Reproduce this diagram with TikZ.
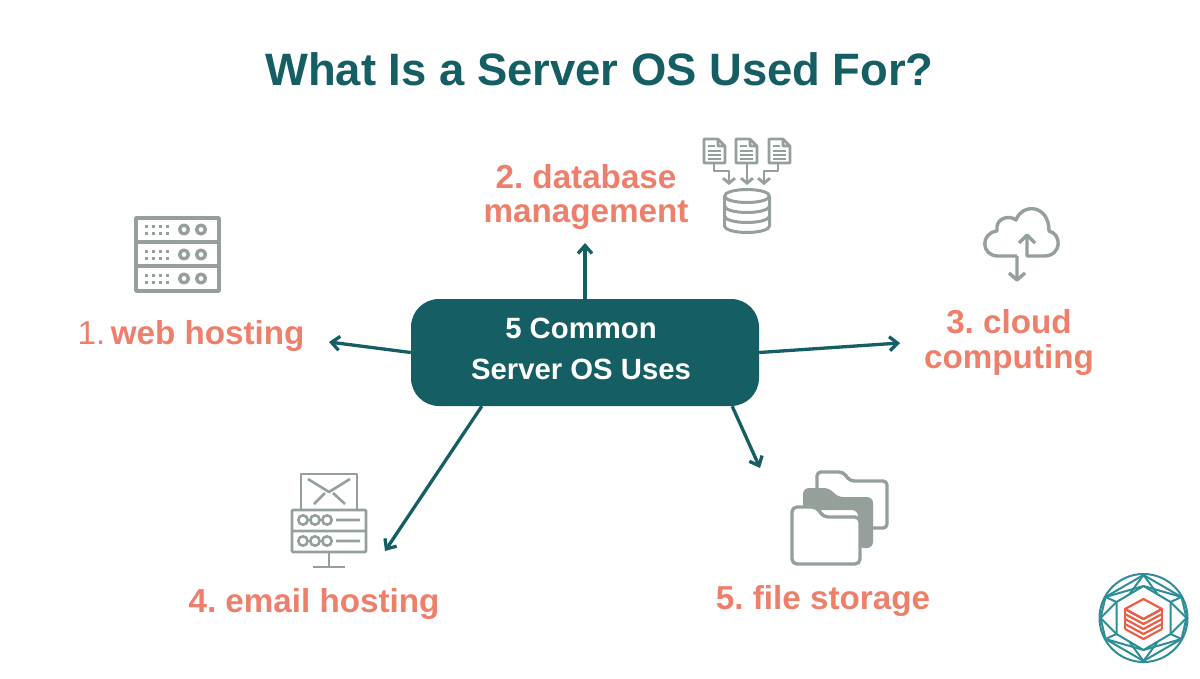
\documentclass[tikz,border=0pt]{standalone}
\usepackage{fontspec}
\setmainfont{Liberation Sans}
\usetikzlibrary{arrows.meta}
\definecolor{tealx}{HTML}{155E63}
\definecolor{salmon}{HTML}{EE7F6B}
\definecolor{icon}{HTML}{95A09B}
\definecolor{logot}{HTML}{2E8E96}
\definecolor{logor}{HTML}{EA5F45}
\tikzset{
  title/.style={font=\fontsize{45.4}{50}\selectfont\bfseries,text=tealx},
  lab/.style={font=\frenchspacing\fontsize{33.2}{34.5}\selectfont\bfseries,text=salmon,align=center},
  hub/.style={fill=tealx,rounded corners=28pt,minimum width=348pt,minimum height=107pt,align=center,text=white,inner sep=0pt,font=\fontsize{29.3}{41}\selectfont\bfseries},
  conn/.style={draw=tealx,line width=3.3pt,-{Straight Barb[length=8pt,width=14pt,line width=3.3pt]}},
  ic/.style={draw=icon,line width=3.4pt,line join=round},
  icthin/.style={draw=icon,line width=2.6pt,line join=round},
  smallhead/.style={-{Straight Barb[length=5pt,width=12pt,line width=2.8pt]}},
}
\begin{document}
\begin{tikzpicture}[x=1pt,y=-1pt]
\useasboundingbox (0,0) rectangle (1200,678);
\fill[white] (0,0) rectangle (1200,678);
\node[title] (ttl) at (599.5,69.5) {What Is a Server OS Used For?};
\node[hub] (hub) at (585,352.5) {\hspace*{-8pt}\raisebox{-27pt}[0pt][0pt]{\parbox[b]{240pt}{\centering 5 Common\\Server OS Uses}}};
\node[lab,anchor=center] (l1) at (191,336) {{\mdseries 1.}\,web hosting};
\node[lab] (l2) at (586,197) {2. database\\management};
\node[lab] (l3) at (1009,342.5) {3. cloud\\computing};
\node[lab] (l4) at (314,604) {4. email hosting};
\node[lab] (l5) at (823,601) {5. file storage};
\coordinate (e1) at (329,342);
\coordinate (e2) at (585,243);
\coordinate (e3) at (900,343);
\coordinate (e4) at (385,551);
\coordinate (e5) at (760,468);
\draw[conn] (hub.north) -- (e2);
\draw[conn] (hub.west) -- (e1);
\draw[conn] (hub.east) -- (e3);
\draw[conn] ([xshift=71pt]hub.south west) -- (e4);
\draw[conn] ([xshift=-27pt]hub.south east) -- (e5);
% server icon
\begin{scope}[shift={(135,217)}]
\draw[ic] (1,1) rectangle (84,74) (1,25) -- (84,25) (1,49) -- (84,49);
\foreach \y in {0,25,49}{
  \foreach \x in {11,18,25,32}{\fill[icon] (\x-1.5,\y+7.5) rectangle (\x+1.5,\y+10.5);\fill[icon] (\x-1.5,\y+14.5) rectangle (\x+1.5,\y+17.5);}
  \draw[ic] (49,\y+12.5) circle (4.4) (66,\y+12.5) circle (4.4);
}
\end{scope}
% database icon
\begin{scope}[shift={(690,125)}]
\foreach \x in {14,46,79}{
  \draw[icthin] (\x,14) -- (\x+14,14) -- (\x+21,21) -- (\x+21,38) -- (\x,38) -- cycle (\x+14,14) -- (\x+14,21) -- (\x+21,21);
  \draw[icon,line width=1.8pt] (\x+4,21) -- (\x+11,21) (\x+4,26) -- (\x+17,26) (\x+4,30) -- (\x+17,30) (\x+4,34) -- (\x+17,34);
}
\draw[icthin,line width=2.8pt,smallhead] (24,38) -- (24,46) -- (39,46) -- (39,60);
\draw[icthin,line width=2.8pt,smallhead] (57,38) -- (57,60);
\draw[icthin,line width=2.8pt,smallhead] (88,38) -- (88,46) -- (74,46) -- (74,60);
\draw[ic,line width=3pt] (57,71) ellipse (22.5 and 6.5);
\draw[ic,line width=3pt] (34.5,71) -- (34.5,101) arc[start angle=180,end angle=0,x radius=22.5,y radius=6.5] -- (79.5,71);
\draw[ic,line width=3pt] (34.5,81) arc[start angle=180,end angle=0,x radius=22.5,y radius=6.5];
\draw[ic,line width=3pt] (34.5,91) arc[start angle=180,end angle=0,x radius=22.5,y radius=6.5];
\end{scope}
% cloud icon
\begin{scope}[shift={(970,195)}]
\draw[ic] (47,61) -- (28,61) .. controls (11,61) and (10,38) .. (27,36) .. controls (25,22) and (40,20) .. (46,25) .. controls (52,8) and (79,9) .. (79,36) .. controls (92,39) and (92,61) .. (74,61) -- (57,61) -- (57,41);
\draw[ic] (49,48) -- (57,40) -- (65,48);
\draw[ic] (47,61) -- (47,85) (39,78) -- (47,85) -- (55,78);
\end{scope}
% email icon
\begin{scope}[shift={(280,465)}]
\draw[ic,line width=2.6pt] (21,44) -- (21,9) -- (77,9) -- (77,44);
\draw[ic,line width=2.6pt] (28,14) -- (49,27) -- (70,14) (34,39) -- (45,28) (53,28) -- (65,39);
\draw[ic,line width=2.8pt,rounded corners=1pt] (12,45) rectangle (86,87) (12,66) -- (86,66);
\foreach \y in {55,76}{\draw[ic,line width=2.6pt] (23,\y) circle (4.7) (35,\y) circle (4.7) (47,\y) circle (4.7) (56,\y) -- (80,\y);}
\draw[ic,line width=2.6pt] (49,87) -- (49,102) (33,102) -- (65,102);
\end{scope}
% folder icon
\begin{scope}[shift={(780,460)}]
\draw[ic,rounded corners=4pt] (37,30) -- (37,12) -- (63,12) -- (70,21) -- (107,21) -- (107,68) -- (93,68);
\fill[icon,rounded corners=6pt] (23,45) -- (23,28) -- (50,28) -- (57,37) -- (93,37) -- (93,88) -- (78,88) -- (78,50) -- (23,50) -- cycle;
\draw[ic,fill=white,rounded corners=5pt] (12,47) -- (37,47) -- (43,57) -- (80,57) -- (80,104) -- (12,104) -- cycle;
\end{scope}
% logo
\begin{scope}[shift={(1143.5,618)}]
\tikzset{lg/.style={draw=logot,line width=2pt,line join=round}}
\draw[lg] (0,0) circle (44);
\coordinate (ht) at (0,-32); \coordinate (hb) at (0,32);
\coordinate (hl1) at (-27,-16); \coordinate (hr1) at (27,-16);
\coordinate (hl2) at (-27,16); \coordinate (hr2) at (27,16);
\draw[lg] (ht) -- (hr1) -- (hr2) -- (hb) -- (hl2) -- (hl1) -- cycle;
\coordinate (ot) at (0,-43); \coordinate (ob) at (0,43);
\coordinate (ol) at (-43,0); \coordinate (or) at (43,0);
\coordinate (otl) at (-38,-21); \coordinate (otr) at (38,-21);
\coordinate (obl) at (-38,21); \coordinate (obr) at (38,21);
\draw[lg] (ot) -- (otr) -- (or) -- (obr) -- (ob) -- (obl) -- (ol) -- (otl) -- cycle;
\draw[lg] (ot) -- (-14,-24) (ot) -- (14,-24) (ob) -- (-14,24) (ob) -- (14,24);
\draw[lg] (otl) -- (hl1) (otr) -- (hr1) (obl) -- (hl2) (obr) -- (hr2);
\draw[lg] (ol) -- (hl1) (ol) -- (hl2) (or) -- (hr1) (or) -- (hr2);
\draw[lg] (otl) -- (ht) (otr) -- (ht) (obl) -- (hb) (obr) -- (hb);
\fill[white] (0,-23) -- (22,-11) -- (22,12) -- (0,25) -- (-22,12) -- (-22,-11) -- cycle;
\tikzset{lr/.style={draw=logor,line width=2.2pt,line join=round}}
\foreach \d in {0,5,10,15,20}{
  \draw[lr] (-18.5,-9+\d) -- (0,1+\d) -- (18.5,-9+\d);
}
\draw[lr] (0,-19) -- (18.5,-9) -- (0,1) -- (-18.5,-9) -- cycle;
\draw[lr] (-18.5,-9) -- (-18.5,11) (18.5,-9) -- (18.5,11);
\end{scope}
\end{tikzpicture}
\end{document}
